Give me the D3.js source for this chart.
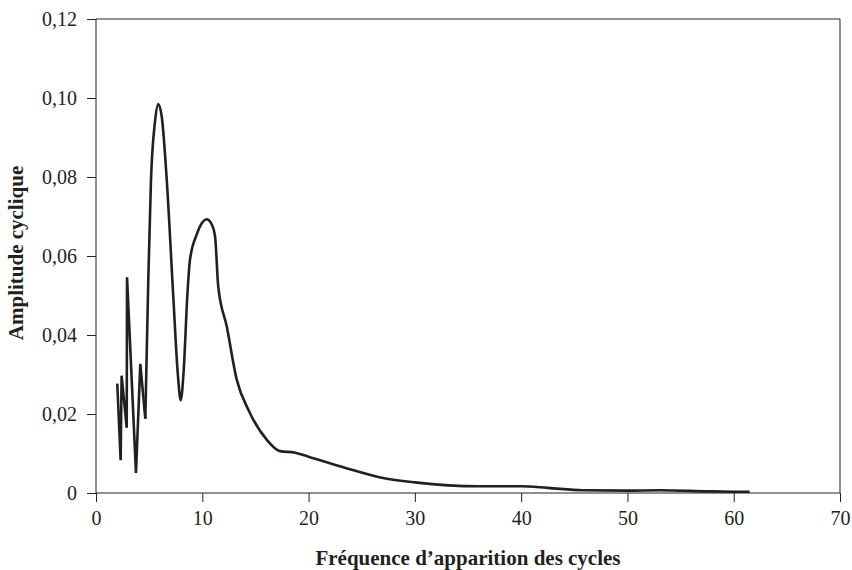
<!DOCTYPE html>
<html>
<head>
<meta charset="utf-8">
<script src="https://cdn.jsdelivr.net/npm/d3@7"></script>
<style>
  body { margin: 0; background: #fff; }
  svg { font-family: "Liberation Serif", "Times New Roman", serif; }
</style>
</head>
<body>
<svg id="chart"></svg>
<script>
// frequency of cycles (x) and cyclic amplitude (y)
const freq = [2.0, 2.32, 2.41, 2.89, 2.92, 3.76, 4.17, 4.64, 4.92, 5.17, 5.55, 5.86, 6.2, 6.64, 7.27, 7.7, 7.97, 8.25, 8.59, 8.84, 9.47, 10.0, 10.41, 10.85, 11.2, 11.5, 12.3, 13.24, 14.4, 16.06, 17.3, 18.74, 20, 23.4, 27.0, 30, 36.0, 40, 42.5, 45.8, 50, 53, 57.7, 61.5];
const amp = [0.0277, 0.0083, 0.0297, 0.0165, 0.0546, 0.0051, 0.0327, 0.0188, 0.054, 0.079, 0.094, 0.0985, 0.095, 0.080, 0.0498, 0.030, 0.0235, 0.031, 0.0498, 0.059, 0.0654, 0.0685, 0.0693, 0.0682, 0.065, 0.0523, 0.0422, 0.0287, 0.0207, 0.0135, 0.0106, 0.0102, 0.0092, 0.0064, 0.0038, 0.0027, 0.0017, 0.0017, 0.0013, 0.0007, 0.0006, 0.0007, 0.0004, 0.0003];

const xTicks = [0, 10, 20, 30, 40, 50, 60, 70];
const yTicks = [0, 0.02, 0.04, 0.06, 0.08, 0.10, 0.12];

const xTitle = "Fréquence d’apparition des cycles";
const yTitle = "Amplitude cyclique";

const width = 852;
const height = 570;
const margin = { top: 19, right: 12, bottom: 77, left: 96 };

const data = freq.map((f, i) => ({ x: f, y: amp[i] }));
// the low-frequency part is a jagged zigzag, the rest a smooth curve
const splitAt = 8;

const xScale = d3.scaleLinear()
  .domain([0, 70])
  .range([margin.left, width - margin.right]);

const yScale = d3.scaleLinear()
  .domain([0, 0.12])
  .range([height - margin.bottom, margin.top]);

const svg = d3.select("#chart")
  .attr("width", width)
  .attr("height", height);

const ink = "#231f20";

// frame (top and right sides)
svg.append("path")
  .attr("d", `M${margin.left},${margin.top}H${width - margin.right}V${height - margin.bottom}`)
  .attr("fill", "none")
  .attr("stroke", ink)
  .attr("stroke-width", 1);

const fmt = (d) => d === 0 ? "0" : d3.format(".2f")(d).replace(".", ",");

const xAxis = d3.axisBottom(xScale).tickValues(xTicks).tickSize(9).tickPadding(9).tickFormat(d3.format("d"));
const yAxis = d3.axisLeft(yScale).tickValues(yTicks).tickSize(9).tickPadding(10).tickFormat(fmt);

const gx = svg.append("g")
  .attr("transform", `translate(0,${height - margin.bottom})`)
  .call(xAxis);

const gy = svg.append("g")
  .attr("transform", `translate(${margin.left},0)`)
  .call(yAxis);

[gx, gy].forEach((g) => {
  g.selectAll(".tick line").attr("stroke", ink);
  g.selectAll(".tick text")
    .attr("fill", ink)
    .style("font-size", "20px")
    .style("font-family", "Liberation Serif, serif");
});
gx.select(".domain").attr("stroke", ink).attr("d", `M${margin.left},0H${width - margin.right}`);
gy.select(".domain").attr("stroke", ink).attr("d", `M0,${height - margin.bottom}V${margin.top}`);

// curve
const jagged = d3.line()
  .x((d) => xScale(d.x))
  .y((d) => yScale(d.y));

const smooth = d3.line()
  .x((d) => xScale(d.x))
  .y((d) => yScale(d.y))
  .curve(d3.curveMonotoneX);

svg.append("path")
  .datum(data.slice(0, splitAt))
  .attr("d", jagged)
  .attr("fill", "none")
  .attr("stroke", ink)
  .attr("stroke-width", 2.6)
  .attr("stroke-linejoin", "miter")
  .attr("stroke-miterlimit", 4);

svg.append("path")
  .datum(data.slice(splitAt - 1))
  .attr("d", smooth)
  .attr("fill", "none")
  .attr("stroke", ink)
  .attr("stroke-width", 2.6)
  .attr("stroke-linejoin", "round");

// titles
svg.append("text")
  .attr("x", 468)
  .attr("y", 565)
  .attr("text-anchor", "middle")
  .attr("fill", ink)
  .style("font-size", "21px")
  .style("font-weight", "bold")
  .text(xTitle);

svg.append("text")
  .attr("transform", `translate(23,253) rotate(-90)`)
  .attr("text-anchor", "middle")
  .attr("fill", ink)
  .style("font-size", "21px")
  .style("font-weight", "bold")
  .text(yTitle);
</script>
</body>
</html>
